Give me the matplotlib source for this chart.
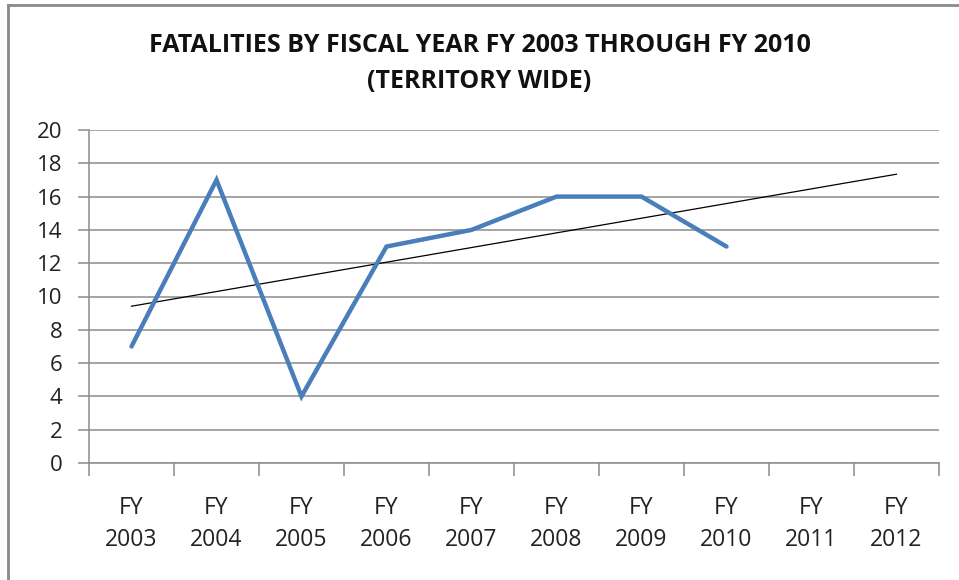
import numpy as np
import matplotlib.pyplot as plt
from matplotlib.lines import Line2D

# data
years = ['FY\n2003', 'FY\n2004', 'FY\n2005', 'FY\n2006', 'FY\n2007',
         'FY\n2008', 'FY\n2009', 'FY\n2010', 'FY\n2011', 'FY\n2012']
fatalities = [7, 17, 4, 13, 14, 16, 16, 13]

plt.rcParams['font.family'] = ['Open Sans', 'DejaVu Sans']

fig = plt.figure(figsize=(9.59, 5.80), dpi=100)
ax = fig.add_axes([89 / 959, 1 - 463 / 580, 850 / 959, 333 / 580])

x = np.arange(len(years))
xd = x[:len(fatalities)]

# linear trendline over the full category range
slope, intercept = np.polyfit(xd, fatalities, 1)
xt = np.array([x[0], x[-1]])
ax.plot(xt, intercept + slope * xt, color='black', lw=0.9, zorder=3)

ax.plot(xd, fatalities, color='#4A7EBB', lw=3.2, solid_capstyle='round',
        solid_joinstyle='miter', zorder=4)

ax.set_xlim(-0.5, len(years) - 0.5)
ax.set_ylim(0, 20)
ax.set_yticks(np.arange(0, 21, 2))
ax.yaxis.grid(True, color='#8C8C8C', lw=1.1)
ax.set_axisbelow(True)

ax.set_xticks(x)
ax.set_xticklabels(years, fontsize=16.5, color='#222222', linespacing=1.4)
ax.set_xticks(np.arange(-0.5, len(years)), minor=True)
ax.tick_params(axis='x', which='major', length=0, pad=24)
ax.tick_params(axis='x', which='minor', length=9, color='#8C8C8C', width=1.1)
ax.tick_params(axis='y', length=8, color='#8C8C8C', width=1.1, pad=11,
               labelsize=16, labelcolor='#222222')

for s in ['top', 'right']:
    ax.spines[s].set_visible(False)
for s in ['left', 'bottom']:
    ax.spines[s].set_color('#8C8C8C')
    ax.spines[s].set_linewidth(1.1)

fig.text(0.5, 1 - 46 / 580, 'FATALITIES BY FISCAL YEAR FY 2003 THROUGH FY 2010',
         ha='center', va='center', fontsize=18, fontweight='bold', color='#111111')
fig.text(0.5, 1 - 81 / 580, '(TERRITORY WIDE)',
         ha='center', va='center', fontsize=18, fontweight='bold', color='#111111')

# outer chart frame (left and top edges visible)
fig.add_artist(Line2D([7.5 / 959, 7.5 / 959], [0, 1 - 4.5 / 580],
                      transform=fig.transFigure, color='#8A8A8A', lw=2))
fig.add_artist(Line2D([7.5 / 959, 1], [1 - 4.5 / 580, 1 - 4.5 / 580],
                      transform=fig.transFigure, color='#8A8A8A', lw=2))

fig.savefig('out.png', dpi=100)
